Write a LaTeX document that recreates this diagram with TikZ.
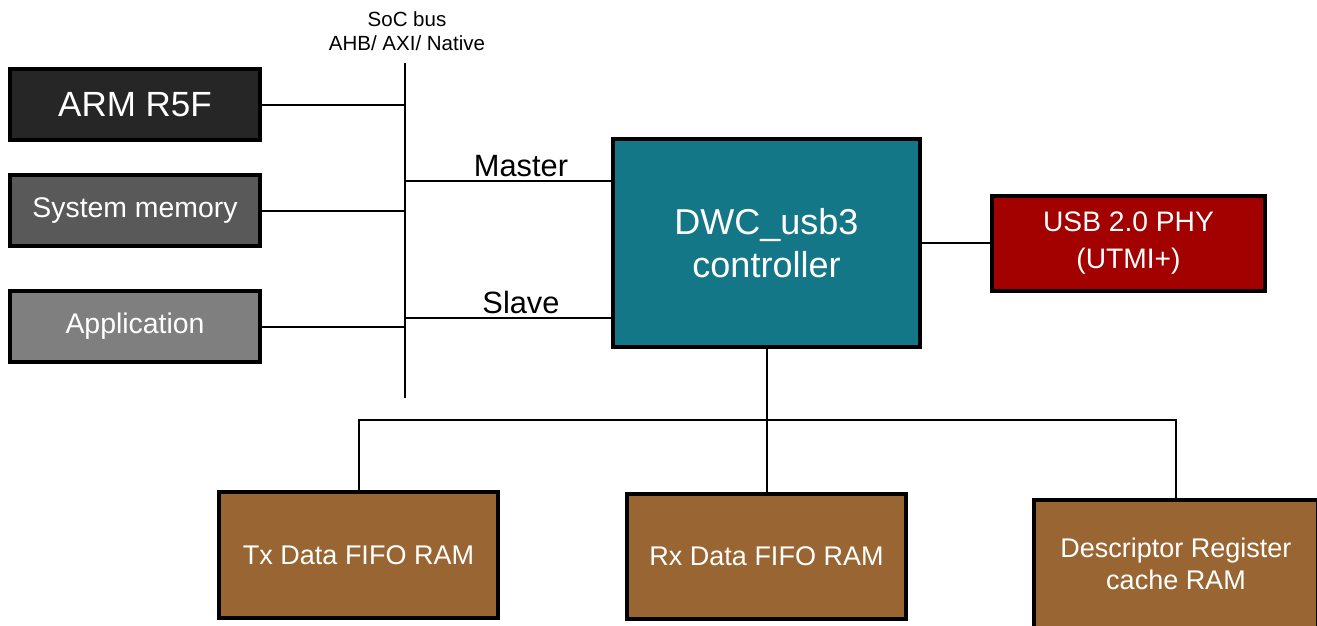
\documentclass[tikz,border=0pt]{standalone}
\usepackage{fontspec}
\setmainfont{Liberation Sans}
\definecolor{armc}{HTML}{262626}
\definecolor{memc}{HTML}{595959}
\definecolor{appc}{HTML}{7F7F7F}
\definecolor{tealc}{HTML}{147787}
\definecolor{redc}{HTML}{A30000}
\definecolor{brownc}{HTML}{996633}
\tikzset{
  blk/.style={draw=black, line width=4pt, text=white, inner sep=0pt, align=center},
  wire/.style={line width=2pt},
  fs/.style={font=\fontsize{#1}{#1}\selectfont}
}
\begin{document}
\begin{tikzpicture}[x=1pt,y=-1pt]
\clip (0,0) rectangle (1317,626);
\fill[white] (0,0) rectangle (1317,626);
% left blocks
\node[blk, fill=armc, minimum width=250pt, minimum height=71pt, fs=35] (arm) at (135,104.5) {ARM R5F};
\node[blk, fill=memc, minimum width=250pt, minimum height=71pt, fs=28.4] (mem) at (135,210.5) {System memory};
\node[blk, fill=appc, minimum width=250pt, minimum height=71pt, fs=28.4] (app) at (135,326.5) {Application};
% controller and phy
\node[blk, fill=tealc, minimum width=307pt, minimum height=208pt, fs=36] (dwc) at (766.5,243) {DWC\_usb3\\[7pt]controller};
\node[blk, fill=redc, minimum width=273pt, minimum height=95pt, fs=28.2] (phy) at (1128.5,243) {USB 2.0 PHY\\[8pt](UTMI+)};
% rams
\node[blk, fill=brownc, minimum width=279pt, minimum height=126pt, fs=27] (tx) at (358.5,555) {Tx Data FIFO RAM};
\node[blk, fill=brownc, minimum width=279pt, minimum height=125pt, fs=27] (rx) at (766.5,556.5) {Rx Data FIFO RAM};
\node[blk, fill=brownc, minimum width=284pt, minimum height=128pt, fs=27] (desc) at (1176,564) {Descriptor Register\\[5pt]cache RAM};
% bus
\coordinate (bt) at (405,63);
\coordinate (bb) at (405,398);
\draw[wire] (bt) -- (bb);
\node[fs=20.5, align=center] (buslbl) at (407,31) {SoC bus\\[4pt]AHB/ AXI/ Native};
\draw[wire] (arm.east) -- (arm.east -| bt);
\draw[wire] (mem.east) -- (mem.east -| bt);
\draw[wire] (app.east) -- (app.east -| bt);
\coordinate (mst) at (405,181);
\coordinate (slv) at (405,318);
\draw[wire] (mst) -- (mst -| dwc.west) node[midway, above=0pt, xshift=13pt, fs=30.8] (mlbl) {Master};
\draw[wire] (slv) -- (slv -| dwc.west) node[midway, above=0pt, xshift=13pt, fs=30.8] (slbl) {Slave};
\draw[wire] (dwc.east) -- (phy.west);
% bottom tree
\coordinate (hb) at (766.5,420);
\draw[wire] (dwc.south) -- (rx.north);
\draw[wire] (tx.north) -- (tx.north |- hb) -- (desc.north |- hb) -- (desc.north);
\end{tikzpicture}
\end{document}
